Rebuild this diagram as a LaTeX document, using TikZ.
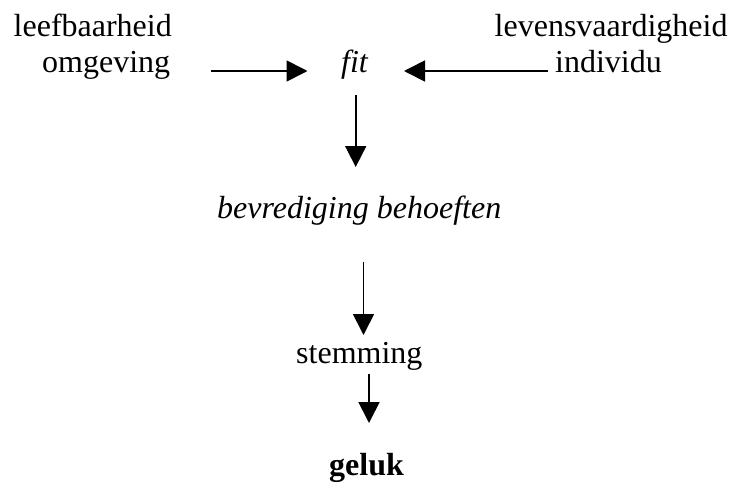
\documentclass[tikz,border=0pt]{standalone}
\usepackage{fontspec}
\setmainfont{Liberation Serif}
\usetikzlibrary{arrows.meta}
\begin{document}
\begin{tikzpicture}[x=1pt,y=-1pt,
  lbl/.style={inner sep=0pt,anchor=base west,font=\fontsize{32}{38}\selectfont},
  arr/.style={line width=1.7pt,-{Triangle[length=21pt,width=21pt]}}]
\useasboundingbox (0,0) rectangle (734,490);
\node[lbl] (leef) at (13.5,36) {leefbaarheid};
\node[lbl] (omg) at (42,72) {omgeving};
\node[lbl] (levens) at (494.5,36) {levensvaardigheid};
\node[lbl] (ind) at (555,72) {individu};
\node[lbl,font=\fontsize{32}{38}\selectfont\itshape] (fit) at (341,72) {fit};
\node[lbl,font=\fontsize{32}{38}\selectfont\itshape] (bev) at (217,218) {bevrediging behoeften};
\node[lbl] (stem) at (296,363) {stemming};
\node[lbl,font=\fontsize{32}{38}\selectfont\bfseries] (geluk) at (329,475) {geluk};
\coordinate (a1s) at (211,71);
\coordinate (a1e) at (307.5,71);
\coordinate (a2s) at (548,71);
\coordinate (a2e) at (404,71);
\coordinate (a3s) at (355.7,95);
\coordinate (a3e) at (355.7,167);
\coordinate (a4s) at (363.5,262);
\coordinate (a4e) at (363.5,335);
\coordinate (a5s) at (369,374);
\coordinate (a5e) at (369,423);
\draw[arr] (a1s) -- (a1e);
\draw[arr] (a2s) -- (a2e);
\draw[arr] (a3s) -- (a3e);
\draw[arr] (a4s) -- (a4e);
\draw[arr] (a5s) -- (a5e);
\end{tikzpicture}
\end{document}
